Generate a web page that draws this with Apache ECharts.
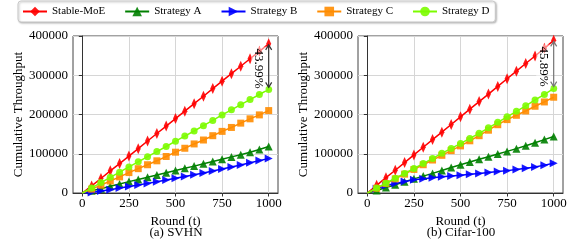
<!DOCTYPE html>
<html><head><meta charset="utf-8">
<script src="https://cdn.jsdelivr.net/npm/echarts@6/dist/echarts.min.js"></script>
<style>html,body{margin:0;padding:0;background:#fff}#c{width:581px;height:242px}</style>
</head><body><div id="c"></div>
<script>
// ---- data ----
const rounds = [0,50,100,150,200,250,300,350,400,450,500,550,600,650,700,750,800,850,900,950,1000];
const seriesNames = ['Stable-MoE','Strategy A','Strategy B','Strategy C','Strategy D'];
const panelTitles = ['(a) SVHN','(b) Cifar-100'];
const gapLabels = ['43.99%','45.89%'];
const xTicks = [0,250,500,750,1000];
const yTicks = [0,100000,200000,300000,400000];

// SVHN
const svhnStable = [0,18000,37000,56500,75000,94000,113000,132500,151500,170500,189500,208500,227500,246500,266000,285000,304000,323000,342000,361000,380000];
const svhnA      = [0,5500,11000,17000,23000,29000,34500,40000,46000,51500,57500,63000,68500,74500,80000,86000,92000,97500,104000,111000,118500];
const svhnB      = [0,1500,5000,8500,12500,16500,20500,24500,28500,33000,37500,42000,46500,51000,56000,61000,66000,71500,77000,82500,88000];
const svhnC      = [0,10000,20000,30500,41000,52000,62000,72000,82000,93000,104000,114000,125000,135000,146000,157000,167000,178000,189000,199000,210000];
const svhnD      = [0,13000,26500,40000,53000,66500,79500,92500,105500,118500,132000,145000,158000,171500,185000,199000,212000,225000,238000,251000,264000];
// Cifar-100
const cifarStable = [0,19500,39000,58000,77500,97000,116500,136000,155000,174500,194000,213500,233000,252000,271500,291000,310500,330000,349000,368500,389000];
const cifarA      = [0,6500,14000,21000,28500,36000,43000,50000,57500,65000,72000,79000,86000,92500,99500,106000,113000,120500,128000,136000,144000];
const cifarB      = [0,11000,19000,24500,29000,33500,36500,39000,41500,43500,45500,47500,49500,52000,54500,57000,60000,63000,66500,71000,76000];
const cifarC      = [0,12000,24000,36000,48000,60000,72000,84000,96000,108000,120000,133000,146000,160000,174000,187000,198000,209000,221000,232000,244000];
const cifarD      = [0,12500,25000,37500,50000,62500,75000,88000,101000,113500,126000,139000,152000,166000,180000,194000,208000,222000,237000,251000,266000];

const panels = [
  [svhnStable, svhnA, svhnB, svhnC, svhnD],
  [cifarStable, cifarA, cifarB, cifarC, cifarD]
];

// ---- styles ----
const FONT = 'Liberation Serif';
const colors = ['#ff0000','#008000','#0000ff','#ff8c00','#7cfc00'];
const symbols = ['path://M0,-10L5,0L0,10L-5,0Z','triangle','triangle','rect','circle'];
const symbolSizes = [[5,11],8,8,7,7];
const symbolRotates = [0,0,-90,0,0];
const grids = [
  {left:73, top:36, width:205, height:157},
  {left:358, top:36, width:205, height:157}
];

const chart = echarts.init(document.getElementById('c'), null, {renderer:'canvas'});

const xAxes = [], yAxes = [], series = [];
grids.forEach((g, gi) => {
  xAxes.push({
    type:'value', gridIndex:gi, min:-50, max:1050,
    name:'Round (t)', nameLocation:'middle', nameGap:16,
    nameTextStyle:{fontFamily:FONT, fontSize:13, color:'#000'},
    axisLine:{show:true, lineStyle:{color:'#333', width:1}},
    axisTick:{show:true, length:3.5, customValues:xTicks, lineStyle:{color:'#333'}},
    axisLabel:{customValues:xTicks, fontFamily:FONT, fontSize:13, color:'#000', margin:4, formatter:v => String(v)},
    splitLine:{show:true, lineStyle:{color:'#d6d6d6', width:1}}
  });
  yAxes.push({
    type:'value', gridIndex:gi, min:0, max:400000, interval:100000,
    name:'Cumulative Throughput', nameLocation:'middle', nameGap:45, nameRotate:90,
    nameTextStyle:{fontFamily:FONT, fontSize:13, color:'#000'},
    axisLine:{show:true, lineStyle:{color:'#333', width:1}},
    axisTick:{show:true, length:3.5, lineStyle:{color:'#333'}},
    axisLabel:{fontFamily:FONT, fontSize:13, color:'#000', margin:5, formatter:v => String(v)},
    splitLine:{show:true, lineStyle:{color:'#d6d6d6', width:1}}
  });
  panels[gi].forEach((vals, si) => {
    series.push({
      type:'line', name:seriesNames[si], xAxisIndex:gi, yAxisIndex:gi,
      data: rounds.map((r, k) => k === 0 ? {value:[r, vals[k]], symbol:'none'} : [r, vals[k]]),
      symbol:symbols[si], symbolSize:symbolSizes[si], symbolRotate:symbolRotates[si],
      showAllSymbol:true,
      lineStyle:{color:colors[si], width:1.5},
      itemStyle:{color:colors[si], opacity:0.9},
      emphasis:{disabled:true}, animation:false, clip:true, z:2+si
    });
  });
});

chart.setOption({
  animation:false,
  textStyle:{fontFamily:FONT},
  grid: grids.map(g => Object.assign({show:true, borderColor:'#444', borderWidth:1, containLabel:false}, g)),
  xAxis:xAxes, yAxis:yAxes, series:series,
  legend:{
    data:seriesNames, left:18, top:1, width:478, itemWidth:24, itemHeight:12, itemGap:19,
    padding:[5,6,5,4], borderColor:'#c8c8c8', borderWidth:1, borderRadius:3,
    backgroundColor:'#fff',
    shadowColor:'rgba(0,0,0,0.25)', shadowBlur:2, shadowOffsetX:1, shadowOffsetY:1,
    textStyle:{fontFamily:FONT, fontSize:11, color:'#000'}
  }
});

// annotations: double arrow between Stable-MoE and Strategy D at the last round + captions
const graphics = [];
panels.forEach((p, gi) => {
  const last = rounds.length - 1;
  const top = chart.convertToPixel({gridIndex:gi}, [rounds[last], p[0][last]]);
  const bot = chart.convertToPixel({gridIndex:gi}, [rounds[last], p[4][last]]);
  const ax = top[0], y1 = top[1] + 1, y2 = bot[1] - 2;
  const col = gi === 0 ? '#333' : '#777';
  graphics.push({type:'text', z:100, x:ax - 10, y:(top[1] + bot[1]) / 2 + 2, rotation:-Math.PI/2,
    style:{text:gapLabels[gi], font:'13px "Liberation Serif"', fill:'#000', align:'center', verticalAlign:'middle',
      backgroundColor:'rgba(255,255,255,0.5)', padding:[1,2]}});
  graphics.push({type:'line', z:101, shape:{x1:ax, y1:y1, x2:ax, y2:y2}, style:{stroke:col, lineWidth:1.2}});
  graphics.push({type:'polyline', z:101, shape:{points:[[ax-3, y1+5],[ax, y1],[ax+3, y1+5]]}, style:{stroke:col, lineWidth:1.2, fill:null}});
  graphics.push({type:'polyline', z:101, shape:{points:[[ax-3, y2-5],[ax, y2],[ax+3, y2-5]]}, style:{stroke:col, lineWidth:1.2, fill:null}});
  const g = grids[gi];
  graphics.push({type:'text', z:100, x:g.left + g.width/2 + 0.5, y:233,
    style:{text:panelTitles[gi], font:'13px "Liberation Serif"', fill:'#000', align:'center', verticalAlign:'middle'}});
});
chart.setOption({graphic:graphics});
</script>
</body></html>
